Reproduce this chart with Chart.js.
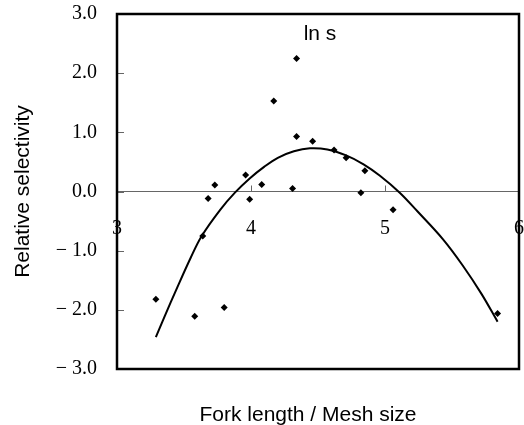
<!DOCTYPE html>
<html>
<head>
<meta charset="utf-8">
<script src="https://cdn.jsdelivr.net/npm/chart.js@4.4.1/dist/chart.umd.min.js"></script>
<style>
  html, body { margin: 0; padding: 0; background: #ffffff; }
  canvas { display: block; }
</style>
</head>
<body>
<canvas id="c" width="524" height="425"></canvas>
<script>
// Observed points (Fork length / Mesh size, relative selectivity ln s)
const pointX = [3.29, 3.58, 3.64, 3.68, 3.73, 3.80, 3.96, 3.99, 4.08, 4.17, 4.31, 4.34, 4.34, 4.46, 4.62, 4.71, 4.82, 4.85, 5.06, 5.84];
const pointY = [-1.82, -2.11, -0.75, -0.12, 0.11, -1.96, 0.28, -0.13, 0.12, 1.53, 0.05, 2.25, 0.93, 0.85, 0.70, 0.57, -0.02, 0.35, -0.31, -2.06];

// Fitted curve
const curveX = [3.29, 3.35, 3.45, 3.55, 3.63, 3.77, 3.88, 3.99, 4.10, 4.20, 4.32, 4.44, 4.57, 4.71, 4.84, 4.96, 5.11, 5.24, 5.43, 5.58, 5.72, 5.84];
const curveY = [-2.46, -2.14, -1.62, -1.12, -0.76, -0.31, -0.02, 0.22, 0.42, 0.57, 0.68, 0.73, 0.71, 0.61, 0.46, 0.27, -0.02, -0.33, -0.80, -1.25, -1.73, -2.20];

// Tick labels
const xTickValues = [3, 4, 5, 6];
const xTickLabels = ["3", "4", "5", "6"];
const yTickValues = [3, 2, 1, 0, -1, -2, -3];
const yTickLabels = ["3.0", "2.0", "1.0", "0.0", "\u2212 1.0", "\u2212 2.0", "\u2212 3.0"];

// Texts
const panelLabel = "ln s";
const xTitle = "Fork length / Mesh size";
const yTitle = "Relative selectivity";

const pointData = pointX.map((x, i) => ({ x: x, y: pointY[i] }));
const curveData = curveX.map((x, i) => ({ x: x, y: curveY[i] }));

function zeroPad(scale) {
  scale.paddingLeft = 0; scale.paddingRight = 0;
  scale.paddingTop = 0; scale.paddingBottom = 0;
}

const decorPlugin = {
  id: 'decor',
  afterDraw(chart) {
    const ctx = chart.ctx;
    const a = chart.chartArea;
    const xs = chart.scales.x, ys = chart.scales.y;
    const zeroY = ys.getPixelForValue(0);
    ctx.save();
    // inward y ticks
    ctx.strokeStyle = '#666666';
    ctx.lineWidth = 1;
    ctx.beginPath();
    yTickValues.forEach(v => {
      if (v === 3 || v === -3) return;
      const py = Math.round(ys.getPixelForValue(v)) + 0.5;
      ctx.moveTo(a.left, py);
      ctx.lineTo(a.left + 7, py);
    });
    // upward x ticks on the zero line
    xTickValues.forEach(v => {
      if (v === 3 || v === 6) return;
      const px = Math.round(xs.getPixelForValue(v)) + 0.5;
      ctx.moveTo(px, zeroY);
      ctx.lineTo(px, zeroY - 6);
    });
    ctx.stroke();
    // frame
    ctx.strokeStyle = '#000000';
    ctx.lineWidth = 2.5;
    ctx.strokeRect(a.left, a.top, a.right - a.left, a.bottom - a.top);
    // texts
    ctx.fillStyle = '#000000';
    ctx.font = '21px "Liberation Sans", Arial, sans-serif';
    ctx.textAlign = 'center';
    ctx.textBaseline = 'alphabetic';
    ctx.fillText(panelLabel, (a.left + a.right) / 2 + 2, 40);
    ctx.fillText(xTitle, 308, 421);
    ctx.restore();
  }
};

new Chart(document.getElementById('c'), {
  type: 'scatter',
  data: {
    datasets: [
      {
        label: 'points',
        data: pointData,
        pointStyle: 'rectRot',
        pointRadius: 3.5,
        pointBackgroundColor: '#000000',
        pointBorderWidth: 0,
        showLine: false,
        order: 0
      },
      {
        label: 'curve',
        data: curveData,
        showLine: true,
        pointRadius: 0,
        borderColor: '#000000',
        borderWidth: 2,
        tension: 0.35,
        fill: false,
        order: 1
      }
    ]
  },
  options: {
    responsive: false,
    animation: false,
    devicePixelRatio: 1,
    layout: { padding: { top: 14, right: 5, left: 0, bottom: 56 } },
    plugins: { legend: { display: false }, tooltip: { enabled: false } },
    scales: {
      x: {
        type: 'linear',
        position: { y: 0 },
        min: 3, max: 6,
        afterBuildTicks(scale) { scale.ticks = xTickValues.map(v => ({ value: v })); },
        afterFit(scale) { scale.height = 0; zeroPad(scale); },
        grid: { display: false, drawTicks: false },
        border: { display: true, color: '#666666', width: 1 },
        ticks: {
          padding: 25,
          color: '#000000',
          font: { family: '"Liberation Serif", "Times New Roman", serif', size: 20 },
          callback: (v) => { const i = xTickValues.indexOf(v); return i >= 0 ? xTickLabels[i] : ''; }
        }
      },
      y: {
        type: 'linear',
        position: 'left',
        min: -3, max: 3,
        afterBuildTicks(scale) { scale.ticks = yTickValues.map(v => ({ value: v })); },
        afterFit(scale) { scale.width = 117; zeroPad(scale); },
        grid: { display: false, drawTicks: false },
        border: { display: false },
        ticks: {
          padding: 20,
          color: '#000000',
          font: { family: '"Liberation Serif", "Times New Roman", serif', size: 20 },
          callback: (v) => { const i = yTickValues.indexOf(v); return i >= 0 ? yTickLabels[i] : ''; }
        },
        title: {
          display: true,
          text: yTitle,
          color: '#000000',
          font: { family: '"Liberation Sans", Arial, sans-serif', size: 21 },
          padding: { top: 11, bottom: 0 }
        }
      }
    }
  },
  plugins: [decorPlugin]
});
</script>
</body>
</html>
